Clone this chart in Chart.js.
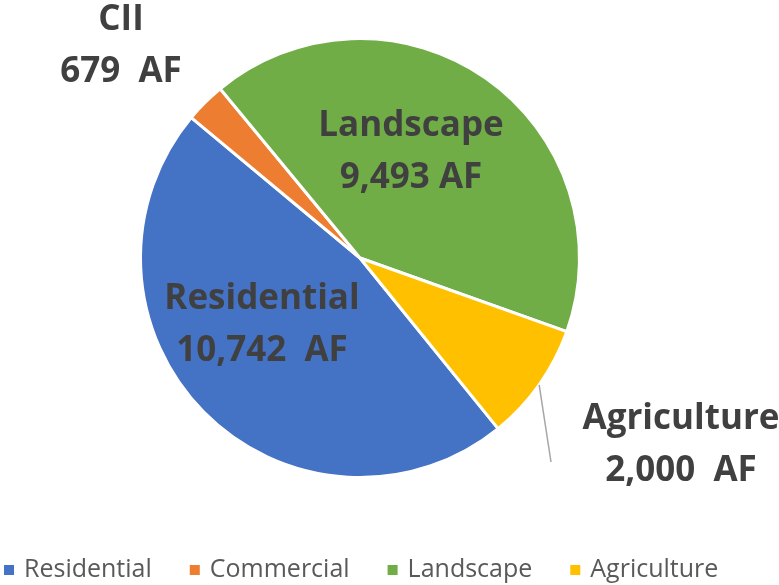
<!DOCTYPE html>
<html><head><meta charset="utf-8">
<script src="https://cdn.jsdelivr.net/npm/chart.js@4/dist/chart.umd.min.js"></script>
<style>html,body{margin:0;padding:0;background:#fff}#wrap{width:779px;height:585px}</style>
</head><body><div id="wrap"><canvas id="c" width="779" height="585"></canvas></div>
<script>
const categories = ["Residential", "Commercial", "Landscape", "Agriculture"];
const values = [10742, 679, 9493, 2000];
const dataLabels = [["Residential", "10,742  AF"], ["CII", "679  AF"], ["Landscape", "9,493 AF"], ["Agriculture", "2,000  AF"]];
const colors = ["#4472C4", "#ED7D31", "#70AD47", "#FFC000"];

// label anchor positions (text placement only)
const labelPos = [[262, 299], [121, 20], [411, 126], [681, 419]];

const labelPlugin = {
  id: 'labels',
  afterDraw(chart) {
    const ctx = chart.ctx;
    const meta = chart.getDatasetMeta(0);
    // leader line for Agriculture
    const arc = meta.data[3];
    const p = arc.getProps(['x','y','startAngle','endAngle','outerRadius'], true);
    const mid = (p.startAngle + p.endAngle) / 2;
    ctx.save();
    ctx.strokeStyle = '#a6a6a6';
    ctx.lineWidth = 1.5;
    ctx.beginPath();
    ctx.moveTo(p.x + Math.cos(mid) * p.outerRadius, p.y + Math.sin(mid) * p.outerRadius);
    ctx.lineTo(551, 462);
    ctx.stroke();
    // data labels
    ctx.fillStyle = '#404040';
    ctx.font = 'bold 35px "Open Sans"';
    ctx.textAlign = 'center';
    ctx.textBaseline = 'middle';
    dataLabels.forEach((lines, i) => {
      const [x, y] = labelPos[i];
      lines.forEach((t, j) => ctx.fillText(t, x, y + j * 52));
    });
    // legend
    ctx.font = '25px "Open Sans"';
    ctx.textAlign = 'left';
    let x = 4;
    const ly = 570;
    categories.forEach((name, i) => {
      ctx.fillStyle = colors[i];
      ctx.fillRect(x, ly - 5, 10, 10);
      ctx.fillStyle = '#595959';
      ctx.fillText(name, x + 20, ly);
      x += 20 + ctx.measureText(name).width + 38;
    });
    ctx.restore();
  }
};

new Chart(document.getElementById('c'), {
  type: 'pie',
  data: {
    labels: categories,
    datasets: [{
      data: values,
      backgroundColor: colors,
      borderColor: '#ffffff',
      borderWidth: 3
    }]
  },
  options: {
    responsive: false,
    animation: false,
    rotation: 141,
    layout: { padding: { left: 139, right: 198, top: 37, bottom: 106 } },
    plugins: { legend: { display: false }, tooltip: { enabled: false } }
  },
  plugins: [labelPlugin]
});
</script>
</body></html>
